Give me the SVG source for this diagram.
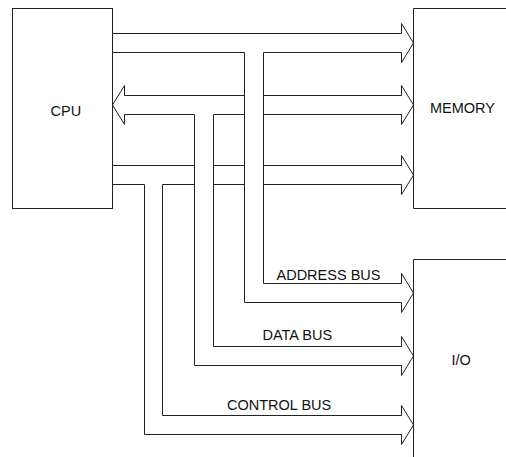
<svg xmlns="http://www.w3.org/2000/svg" xmlns:xlink="http://www.w3.org/1999/xlink" width="506" height="457" viewBox="0 0 506 457">
  <style>
    .box { fill: none; stroke: #222; stroke-width: 1; }
    .bus { fill: none; stroke: #222; stroke-width: 1; stroke-linejoin: miter; }
    .lbl { font-family: "Liberation Sans", Arial, sans-serif; font-size: 14.5px; fill: #111; }
  </style>
  <defs>
    <!-- open block-arrow head, tip at origin, pointing right -->
    <path id="head" d="M-12,-9.5 V-19.5 L0,0 L-12,19.5 V9.5"/>
  </defs>

  <rect width="506" height="457" fill="#fff"/>

  <g id="cpu">
    <rect class="box" x="12.5" y="8.5" width="100" height="200"/>
    <text class="lbl" x="50.5" y="116">CPU</text>
  </g>

  <g id="memory">
    <path class="box" d="M510,8.5 H413.5 V208.5 H510"/>
    <text class="lbl" x="430" y="113">MEMORY</text>
  </g>

  <g id="io">
    <path class="box" d="M510,259.5 H413.5 V460"/>
    <text class="lbl" x="451.5" y="365">I/O</text>
  </g>

  <g id="connectors" class="bus">
    <!-- address bus: CPU to memory, branch down to I/O -->
    <g id="address-bus">
      <path d="M112.5,33.5 H401.5"/>
      <path d="M112.5,52.5 H244.5 M263.5,52.5 H401.5"/>
      <use xlink:href="#head" transform="translate(413.5,43)"/>
      <path d="M244.5,52.5 V302.5 H401.5"/>
      <path d="M263.5,52.5 V283.5 H401.5"/>
      <use xlink:href="#head" transform="translate(413.5,293)"/>
    </g>

    <!-- data bus: two-way between CPU and memory, branch down to I/O -->
    <g id="data-bus">
      <use xlink:href="#head" transform="translate(112.5,105) scale(-1,1)"/>
      <path d="M124.5,95.5 H244.5 M263.5,95.5 H401.5"/>
      <path d="M124.5,114.5 H194.5 M213.5,114.5 H244.5 M263.5,114.5 H401.5"/>
      <use xlink:href="#head" transform="translate(413.5,105)"/>
      <path d="M194.5,114.5 V365.5 H401.5"/>
      <path d="M213.5,114.5 V346.5 H401.5"/>
      <use xlink:href="#head" transform="translate(413.5,356)"/>
    </g>

    <!-- control bus: CPU to memory, branch down to I/O -->
    <g id="control-bus">
      <path d="M112.5,165.5 H194.5 M213.5,165.5 H244.5 M263.5,165.5 H401.5"/>
      <path d="M112.5,184.5 H144.5 M162.5,184.5 H194.5 M213.5,184.5 H244.5 M263.5,184.5 H401.5"/>
      <use xlink:href="#head" transform="translate(413.5,175)"/>
      <path d="M144.5,184.5 V434.5 H401.5"/>
      <path d="M162.5,184.5 V415.5 H401.5"/>
      <use xlink:href="#head" transform="translate(413.5,425)"/>
    </g>
  </g>

  <g id="bus-labels">
    <text class="lbl" x="276.5" y="279.5">ADDRESS BUS</text>
    <text class="lbl" x="262.5" y="339.5">DATA BUS</text>
    <text class="lbl" x="227" y="409.5">CONTROL BUS</text>
  </g>
</svg>
